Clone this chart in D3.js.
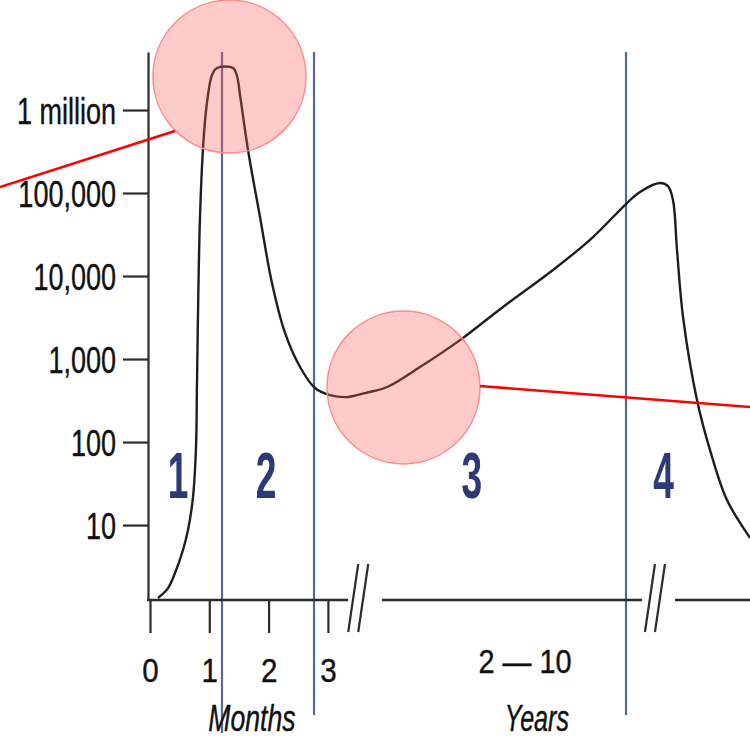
<!DOCTYPE html>
<html>
<head>
<meta charset="utf-8">
<script src="https://cdn.jsdelivr.net/npm/d3@7"></script>
<style>
  html, body { margin: 0; padding: 0; background: #fff; }
  svg { display: block; }
</style>
</head>
<body>
<svg id="chart" width="750" height="739"></svg>
<script>
// Viral load over time. Time is kept in months; the years section is
// mapped to months too (2 years = 24, 10 years = 120).

const curveMonths = [0.135, 0.304, 0.422, 0.556, 0.641, 0.725, 0.776, 0.793, 0.843, 0.911,
  0.978, 1.046, 1.130, 1.400, 1.467, 1.518, 1.653, 1.855, 2.057, 2.277,
  2.530, 2.782, 3.035, 3.322, 9.75, 25.85, 38.03, 52.80, 68.68, 87.14,
  101.91, 114.46, 119.26, 122.0, 122.89, 123.44, 123.89, 124.56, 126.11, 127.56,
  129.44, 132.0];
const curveCopies = [1.32, 1.74, 2.64, 5.0, 8.7, 21.7, 87, 558, 51400, 528000,
  1517000, 2640000, 3210000, 3210000, 2570000, 1517000, 330000, 51400, 8240, 2060,
  802, 448, 368, 348, 389, 460, 802, 1690, 4240, 11800,
  29500, 75800, 103000, 132000, 121000, 82300, 20600, 3210, 321, 80,
  20, 7.0];

const yTickValues = [10, 100, 1000, 10000, 100000, 1000000];
const yTickLabels = ["10", "100", "1,000", "10,000", "100,000", "1 million"];
const monthTicks = [0, 1, 2, 3];

// stage boundaries (blue lines) and stage numbers
const stageBounds = [1.214, 2.766, 114.1];
const stageBoundEnds = [733, 715, 715];
const stageLabels = ["1", "2", "3", "4"];
const stageLabelAt = [0.472, 1.956, 57.2, 122.4];

// axis pieces between the "//" breaks
const axisSegments = [[0, 3.339], [24, 120], [123.67, 132]];
const axisBreaks = [4.07, 121.44];

// highlight circles and red pointer lines (annotation overlay)
const highlightAt = [[1.34, 2530000], [31.94, 454]];
const pointerLines = [
  [[-2.53, 118000], [0.42, 559000]],
  [[60.18, 473], [132, 264]]
];

const svg = d3.select("#chart");
const FONT = "'Liberation Sans', Arial, Helvetica, sans-serif";

const x = d3.scaleLinear()
  .domain([0, 3.5, 24, 120, 132])
  .range([150, 357.55, 382, 642, 750]);
const y = d3.scaleLog().domain([1.25, 5e6]).range([600, 52]);

// squeeze text horizontally to mimic the condensed face
function condense(sel, k) {
  sel.each(function () {
    const w = this.getComputedTextLength();
    d3.select(this).attr("textLength", w * k).attr("lengthAdjust", "spacingAndGlyphs");
  });
}

// stage boundary lines
svg.append("g").selectAll("line")
  .data(stageBounds)
  .join("line")
  .attr("x1", d => x(d)).attr("x2", d => x(d))
  .attr("y1", y(5e6)).attr("y2", (d, i) => stageBoundEnds[i])
  .attr("stroke", "#5c6593")
  .attr("stroke-width", 2.2);

// y axis
const yAxisG = svg.append("g").attr("transform", "translate(148,0)");
yAxisG.call(d3.axisLeft(y)
  .tickValues(yTickValues)
  .tickSize(25)
  .tickSizeOuter(0)
  .tickPadding(7)
  .tickFormat((d, i) => yTickLabels[i]));
yAxisG.select(".domain").attr("stroke", "#2b2b2b").attr("stroke-width", 2.2);
yAxisG.selectAll(".tick line").attr("stroke", "#2b2b2b").attr("stroke-width", 2.2);
yAxisG.selectAll("text")
  .attr("font-family", FONT)
  .attr("font-size", 37)
  .attr("fill", "#111")
  .attr("stroke", "#111")
  .attr("stroke-width", 0.4)
  .attr("dy", "0.36em")
  .call(condense, 0.73);

// x axis: ticks only, line drawn in pieces
const xAxisG = svg.append("g").attr("transform", "translate(0,600)");
xAxisG.call(d3.axisBottom(x)
  .tickValues(monthTicks)
  .tickSize(33)
  .tickSizeOuter(0)
  .tickFormat(d3.format("d")));
xAxisG.select(".domain").remove();
xAxisG.selectAll(".tick line").attr("stroke", "#2b2b2b").attr("stroke-width", 2.2);
xAxisG.selectAll("text")
  .attr("font-family", FONT)
  .attr("font-size", 34)
  .attr("fill", "#111")
  .attr("stroke", "#111")
  .attr("stroke-width", 0.4)
  .attr("y", 82)
  .attr("dy", 0)
  .call(condense, 0.87);

svg.append("g").selectAll("line")
  .data(axisSegments)
  .join("line")
  .attr("x1", (d, i) => i === 0 ? 147 : x(d[0]))
  .attr("x2", d => x(d[1]))
  .attr("y1", 600).attr("y2", 600)
  .attr("stroke", "#2b2b2b")
  .attr("stroke-width", 2.4);

const breakG = svg.append("g");
axisBreaks.forEach(b => {
  const cx = x(b);
  [-5, 5].forEach(off => {
    breakG.append("line")
      .attr("x1", cx + off + 5).attr("y1", 564)
      .attr("x2", cx + off - 5).attr("y2", 632)
      .attr("stroke", "#2b2b2b")
      .attr("stroke-width", 2.2);
  });
});

// axis captions
const captions = [
  { t: "2 \u2014 10", at: 76.8, y: 673, size: 34, italic: false, k: 0.85 },
  { t: "Months", at: 1.72, y: 731, size: 37, italic: true, k: 0.72 },
  { t: "Years", at: 81.2, y: 731, size: 37, italic: true, k: 0.68 }
];
svg.append("g").selectAll("text")
  .data(captions)
  .join("text")
  .attr("x", d => x(d.at))
  .attr("y", d => d.y)
  .attr("text-anchor", "middle")
  .attr("font-family", FONT)
  .attr("font-size", d => d.size)
  .attr("font-style", d => d.italic ? "italic" : "normal")
  .attr("fill", "#111")
  .attr("stroke", "#111")
  .attr("stroke-width", 0.4)
  .text(d => d.t)
  .each(function (d) {
    const w = this.getComputedTextLength();
    d3.select(this).attr("textLength", w * d.k).attr("lengthAdjust", "spacingAndGlyphs");
  });

// stage numbers
svg.append("g").selectAll("text")
  .data(stageLabels)
  .join("text")
  .attr("x", (d, i) => x(stageLabelAt[i]))
  .attr("y", 498)
  .attr("text-anchor", "middle")
  .attr("font-family", FONT)
  .attr("font-weight", "bold")
  .attr("font-size", 64)
  .attr("fill", "#2d3a78")
  .text(d => d)
  .call(condense, 0.58);

// viral load curve
const line = d3.line()
  .x(d => x(d[0]))
  .y(d => y(d[1]))
  .curve(d3.curveCatmullRom.alpha(0.5));
svg.append("path")
  .datum(d3.zip(curveMonths, curveCopies))
  .attr("d", line)
  .attr("fill", "none")
  .attr("stroke", "#1e1e1e")
  .attr("stroke-width", 2.4)
  .attr("stroke-linejoin", "round");

// red highlight overlay
svg.append("g").selectAll("circle")
  .data(highlightAt)
  .join("circle")
  .attr("cx", d => x(d[0]))
  .attr("cy", d => y(d[1]))
  .attr("r", 76.5)
  .attr("fill", "#ff5a5a")
  .attr("fill-opacity", 0.32)
  .attr("stroke", "#ff8a8a")
  .attr("stroke-width", 1.5);

svg.append("g").selectAll("line")
  .data(pointerLines)
  .join("line")
  .attr("x1", d => x(d[0][0])).attr("y1", d => y(d[0][1]))
  .attr("x2", d => x(d[1][0])).attr("y2", d => y(d[1][1]))
  .attr("stroke", "#ff0000")
  .attr("stroke-width", 2.6);
</script>
</body>
</html>
